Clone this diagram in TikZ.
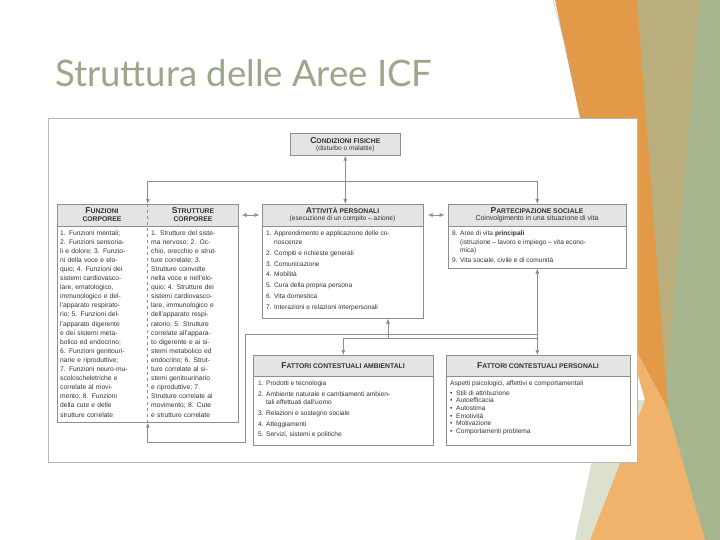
\documentclass[tikz,border=0pt]{standalone}
\usepackage{fontspec}
\setmainfont{Liberation Sans}
\newfontfamily\titlefont{Lato}
\usetikzlibrary{arrows.meta}
\definecolor{ln}{HTML}{8E8E8E}
\definecolor{hd}{HTML}{E4E4E4}
\definecolor{ttl}{HTML}{9CA688}
\definecolor{olv}{HTML}{B9AE7C}
\definecolor{grn}{HTML}{A8B68F}
\definecolor{org}{HTML}{E29A48}
\definecolor{lorg}{HTML}{EFB36B}
\definecolor{pale}{HTML}{DCE1CF}
\newcommand\hsc[2]{{\fontsize{8.6}{9.5}\selectfont #1}{\fontsize{6.8}{9.5}\selectfont #2}}
\newcommand\jl[1]{\makebox[\linewidth][s]{#1}\\}
\tikzset{
 box/.style={draw=ln, line width=0.6pt, fill=white, anchor=north west, inner sep=0pt, rectangle},
 hdr/.style={font=\bfseries\fontsize{6.8}{8}\selectfont, align=center, inner sep=0pt, text=black!80},
 body/.style={font=\fontsize{6.7}{9.1}\selectfont, anchor=north west, inner sep=0pt, align=left, text=black!80},
 arr/.style={draw=ln, line width=0.7pt, -{Latex[length=5pt,width=4pt]}},
 darr/.style={draw=ln, line width=0.7pt, {Latex[length=5pt,width=4pt]}-{Latex[length=5pt,width=4pt]}},
 ln/.style={draw=ln, line width=0.7pt}
}
\begin{document}
\begin{tikzpicture}[x=1pt,y=-1pt]
\useasboundingbox (0,0) rectangle (720,540);
\fill[white] (0,0) rectangle (720,540);
% decorations
\fill[grn] (637,0) -- (720,0) -- (720,540) -- (600,540) -- (665,405) -- cycle;
\fill[olv] (637,0) -- (700,0) -- (665,405) -- cycle;
\fill[pale] (605,400) -- (650,400) -- (590,540) -- (575,540) -- cycle;
\fill[org] (555,0) -- (637,0) -- (668,410) -- (625,330) -- cycle;
\fill[lorg] (625,330) -- (668,410) -- (705,540) -- (590,540) -- (645,400) -- cycle;
\draw[gray!60, line width=0.4pt] (553,0) -- (585,118);
% title
\node[anchor=base west, inner sep=0pt, text=ttl, font=\titlefont\fontsize{36.5}{40}\selectfont] (title) at (55,87) {Struttura delle Aree ICF};
% frame
\node[box, draw=gray!55, line width=1.4pt, minimum width=589pt, minimum height=344pt] (frame) at (48,118) {};
% boxes
\node[box, fill=hd, minimum width=110pt, minimum height=22pt] (cond) at (290,133) {};
\node[hdr] (condt) at (cond.center) {\hsc{C}{ONDIZIONI FISICHE}\\[-1pt]{\mdseries\fontsize{6.6}{8}\selectfont (disturbo o malattie)}};

\node[box, minimum width=181pt, minimum height=218pt] (funz) at (57,204) {};
\fill[hd] (57,204) rectangle (238,226);
\draw[ln, line width=0.6pt] (57,226) -- (238,226) (57,204) rectangle (238,422);
\draw[ln, line width=0.4pt, dashed] (147.5,204) -- (147.5,422);
\node[hdr] (funzt) at (102,215) {\hsc{F}{UNZIONI}\\\hsc{}{CORPOREE}};
\node[hdr] (strt) at (193,215) {\hsc{S}{TRUTTURE}\\\hsc{}{CORPOREE}};
\node[body, text width=85pt] (funzb) at (60,230) {%
\jl{1. Funzioni mentali;}
\jl{2. Funzioni sensoria-}
\jl{li e dolore; 3. Funzio-}
\jl{ni della voce e elo-}
\jl{quio; 4. Funzioni dei}
\jl{sistemi cardiovasco-}
\jl{lare, ematologico,}
\jl{immunologico e del-}
\jl{l'apparato respirato-}
\jl{rio; 5. Funzioni del-}
\jl{l'apparato digerente}
\jl{e dei sistemi meta-}
\jl{bolico ed endocrino;}
\jl{6. Funzioni genitouri-}
\jl{narie e riproduttive;}
\jl{7. Funzioni neuro-mu-}
\jl{scoloscheletriche e}
\jl{correlate al movi-}
\jl{mento; 8. Funzioni}
\jl{della cute e delle}
strutture correlate};
\node[body, text width=84pt] (strb) at (151,230) {%
\jl{1. Strutture del siste-}
\jl{ma nervoso; 2. Oc-}
\jl{chio, orecchio e strut-}
\jl{ture correlate; 3.}
\jl{Strutture coinvolte}
\jl{nella voce e nell'elo-}
\jl{quio; 4. Strutture dei}
\jl{sistemi cardiovasco-}
\jl{lare, immunologico e}
\jl{dell'apparato respi-}
\jl{ratorio; 5. Strutture}
\jl{correlate all'appara-}
\jl{to digerente e ai si-}
\jl{stemi metabolico ed}
\jl{endocrino; 6. Strut-}
\jl{ture correlate al si-}
\jl{stemi genitourinario}
\jl{e riproduttive; 7.}
\jl{Strutture correlate al}
\jl{movimento; 8. Cute}
e strutture correlate};

\node[box, minimum width=161pt, minimum height=114pt] (att) at (262,204) {};
\fill[hd] (262,204) rectangle (423,226);
\draw[ln, line width=0.6pt] (262,226) -- (423,226) (262,204) rectangle (423,318);
\node[hdr] (attt) at (342.5,215) {\hsc{A}{TTIVITÀ PERSONALI}\\[-1pt]{\mdseries\fontsize{6.6}{8}\selectfont (esecuzione di un compito – azione)}};
\node[body, font=\fontsize{6.6}{8.6}\selectfont] (attb) at (266,231) {%
1. Apprendimento e applicazione delle co-\\
\phantom{1. }noscenze\\[2.2pt]
2. Compiti e richieste generali\\[2.2pt]
3. Comunicazione\\[2.2pt]
4. Mobilità\\[2.2pt]
5. Cura della propria persona\\[2.2pt]
6. Vita domestica\\[2.2pt]
7. Interazioni e relazioni interpersonali};

\node[box, minimum width=178pt, minimum height=64pt] (part) at (448,204) {};
\fill[hd] (448,204) rectangle (626,226);
\draw[ln, line width=0.6pt] (448,226) -- (626,226) (448,204) rectangle (626,268);
\node[hdr] (partt) at (537,215) {\hsc{P}{ARTECIPAZIONE SOCIALE}\\[-1pt]{\mdseries\fontsize{7}{8}\selectfont Coinvolgimento in una situazione di vita}};
\node[body, font=\fontsize{6.6}{8.2}\selectfont] (partb) at (452,231) {%
8. Aree di vita {\bfseries principali}\\
\phantom{8. }(istruzione – lavoro e impiego – vita econo-\\
\phantom{8. }mica)\\[2pt]
9. Vita sociale, civile e di comunità};

\node[box, minimum width=180pt, minimum height=90pt] (amb) at (253,355) {};
\fill[hd] (253,355) rectangle (433,376);
\draw[ln, line width=0.6pt] (253,376) -- (433,376) (253,355) rectangle (433,445);
\node[hdr] (ambt) at (343,366) {\hsc{F}{ATTORI CONTESTUALI AMBIENTALI}};
\node[body, font=\fontsize{6.6}{8.4}\selectfont] (ambb) at (258,381) {%
1. Prodotti e tecnologia\\[2.2pt]
2. Ambiente naturale e cambiamenti ambien-\\
\phantom{2. }tali effettuati dall'uomo\\[2.2pt]
3. Relazioni e sostegno sociale\\[2.2pt]
4. Atteggiamenti\\[2.2pt]
5. Servizi, sistemi e politiche};

\node[box, minimum width=184pt, minimum height=90pt] (pers) at (446,355) {};
\fill[hd] (446,355) rectangle (630,376);
\draw[ln, line width=0.6pt] (446,376) -- (630,376) (446,355) rectangle (630,445);
\node[hdr] (perst) at (538,366) {\hsc{F}{ATTORI CONTESTUALI PERSONALI}};
\node[body, font=\fontsize{6.6}{7.7}\selectfont] (persb) at (450,381) {%
Aspetti psicologici, affettivi e comportamentali\\[1.5pt]
\textbullet\ \ Stili di attribuzione\\
\textbullet\ \ Autoefficacia\\
\textbullet\ \ Autostima\\
\textbullet\ \ Emotività\\
\textbullet\ \ Motivazione\\
\textbullet\ \ Comportamenti problema};

% connectors
\draw[darr] (cond.south) -- (cond.south |- att.north);
\draw[darr] (funz.north) -- ++(0,-23) -| (part.north);
\draw[darr] ([yshift=-11pt]funz.north east) ++(3,0) -- ++(18,0);
\draw[darr] ([yshift=-11pt]att.north east) ++(4,0) -- ++(17,0);
\coordinate (hb) at (388,334);
\coordinate (hc) at (388,338);
\draw[arr] (hc) -- (hc |- att.south);
\draw[ln] (hb) -- (hb -| part.south);
\draw[darr] (part.south) -- (part.south |- pers.north);
\draw[arr] (hc -| part.south) -| (amb.north);
\draw[arr] (hb) -- (245,334) -- (245,442) -| (funz.south);
\end{tikzpicture}
\end{document}
